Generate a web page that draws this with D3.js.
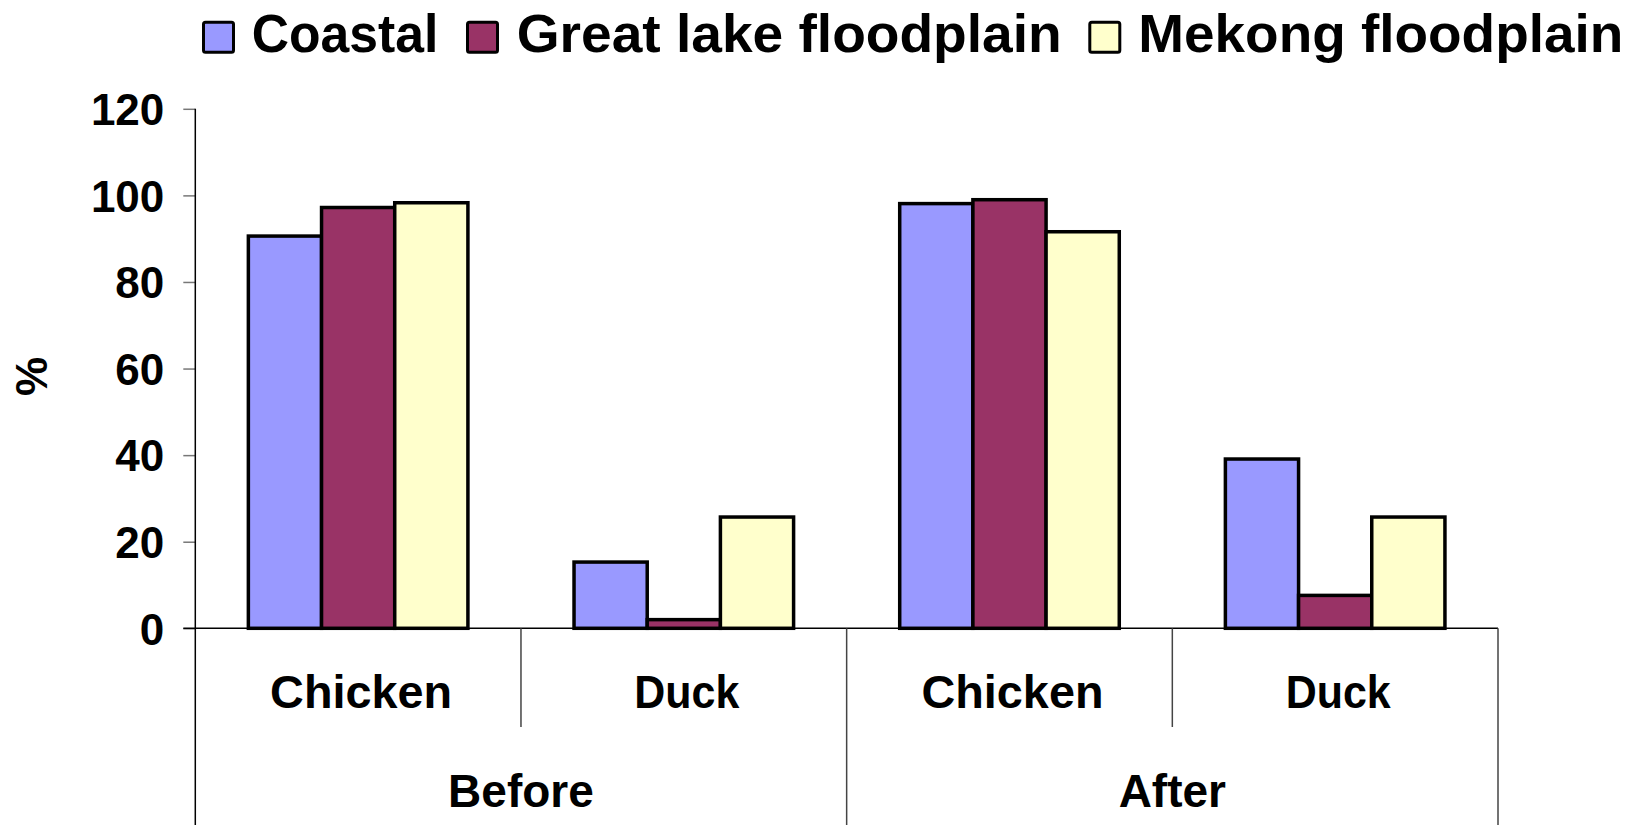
<!DOCTYPE html>
<html>
<head>
<meta charset="utf-8">
<script src="https://cdn.jsdelivr.net/npm/d3@7"></script>
<style>
  html, body { margin: 0; padding: 0; background: #fff; }
  svg { display: block; }
  text { font-family: "Liberation Sans", Arial, sans-serif; font-weight: bold; fill: #000; }
</style>
</head>
<body>
<svg id="chart" width="1640" height="825"></svg>
<script>
// ---- data ----
const periods = ["Before", "After"];
const animals = ["Chicken", "Duck"];
const seriesNames = ["Coastal", "Great lake floodplain", "Mekong floodplain"];
const seriesColors = ["#9999FF", "#993366", "#FFFFCC"];
// values in order: Before-Chicken, Before-Duck, After-Chicken, After-Duck
const coastal = [90.6, 15.3, 98.1, 39.1];
const greatLake = [97.2, 2.0, 99.0, 7.6];
const mekong = [98.3, 25.7, 91.6, 25.7];
const yTicks = [0, 20, 40, 60, 80, 100, 120];
const yLabel = "%";

// ---- layout ----
const svg = d3.select("#chart");
const x0 = 195.3, x1 = 1498, yTop = 108.8, yBase = 628.3;

const categories = [];
periods.forEach(p => animals.forEach(a => categories.push(p + "|" + a)));
const seriesVals = [coastal, greatLake, mekong];

const xCat = d3.scaleBand().domain(categories).range([x0, x1]).padding(0);
const xSer = d3.scaleBand().domain(seriesNames).range([0, xCat.bandwidth()]).paddingInner(0).paddingOuter(0.725);
const xPeriod = d3.scaleBand().domain(periods).range([x0, x1]).padding(0);
const y = d3.scaleLinear().domain([0, 120]).range([yBase, yTop]);

// y axis
const yAxis = d3.axisLeft(y).tickValues(yTicks).tickSize(12).tickPadding(19);
const gy = svg.append("g").attr("transform", `translate(${x0},0)`).call(yAxis);
gy.select(".domain").remove();
gy.selectAll(".tick line").attr("stroke", "#777").attr("stroke-width", 1.5);
gy.selectAll(".tick text").style("font-size", "44px").style("font-family", "'Liberation Sans', Arial, sans-serif").style("font-weight", "bold").attr("fill", "#000").attr("dy", "0.36em");
svg.append("line").attr("x1", x0).attr("x2", x0).attr("y1", yTop).attr("y2", 825)
  .attr("stroke", "#000").attr("stroke-width", 1.5);

svg.append("text").attr("transform", `translate(47,${(yTop + yBase) / 2 + 8}) rotate(-90)`)
  .attr("text-anchor", "middle").style("font-size", "44px").text(yLabel);

// bars
const gBars = svg.append("g");
seriesNames.forEach((s, si) => {
  gBars.selectAll(null).data(categories).enter().append("rect")
    .attr("x", c => xCat(c) + xSer(s))
    .attr("y", (c, i) => y(seriesVals[si][i]))
    .attr("width", xSer.bandwidth())
    .attr("height", (c, i) => y(0) - y(seriesVals[si][i]))
    .attr("fill", seriesColors[si])
    .attr("stroke", "#000").attr("stroke-width", 3.5);
});

// x axis line
svg.append("line").attr("x1", x0 - 12).attr("x2", x1).attr("y1", yBase).attr("y2", yBase)
  .attr("stroke", "#000").attr("stroke-width", 1.5);

// category separators
categories.forEach((c, i) => {
  const xx = xCat(c) + xCat.bandwidth();
  const isPeriodEnd = (i % animals.length) === animals.length - 1;
  svg.append("line").attr("x1", xx).attr("x2", xx).attr("y1", yBase).attr("y2", isPeriodEnd ? 825 : 727)
    .attr("stroke", "#444").attr("stroke-width", 1.5);
});

// category labels
svg.append("g").selectAll("text").data(categories).enter().append("text")
  .attr("x", c => xCat(c) + xCat.bandwidth() / 2 + 3)
  .attr("y", 708)
  .attr("text-anchor", "middle").style("font-size", "46px")
  .attr("textLength", c => c.split("|")[1] === "Chicken" ? 182 : 105)
  .attr("lengthAdjust", "spacingAndGlyphs")
  .text(c => c.split("|")[1]);

svg.append("g").selectAll("text").data(periods).enter().append("text")
  .attr("x", p => xPeriod(p) + xPeriod.bandwidth() / 2)
  .attr("y", 807)
  .attr("text-anchor", "middle").style("font-size", "46px")
  .text(p => p);

// legend
const legSquareX = [202, 466, 1088.3];
const legTextX = [251.7, 516.7, 1138.3];
const legTextW = [186.6, 545, 485];
const leg = svg.append("g");
seriesNames.forEach((s, i) => {
  leg.append("rect").attr("x", legSquareX[i] + 1.5).attr("y", 22.2).attr("width", 30).attr("height", 30)
    .attr("rx", 2).attr("fill", seriesColors[i]).attr("stroke", "#000").attr("stroke-width", 3);
  leg.append("text").attr("x", legTextX[i]).attr("y", 51.7).style("font-size", "53px")
    .attr("textLength", legTextW[i]).attr("lengthAdjust", "spacingAndGlyphs").text(s);
});
</script>
</body>
</html>
